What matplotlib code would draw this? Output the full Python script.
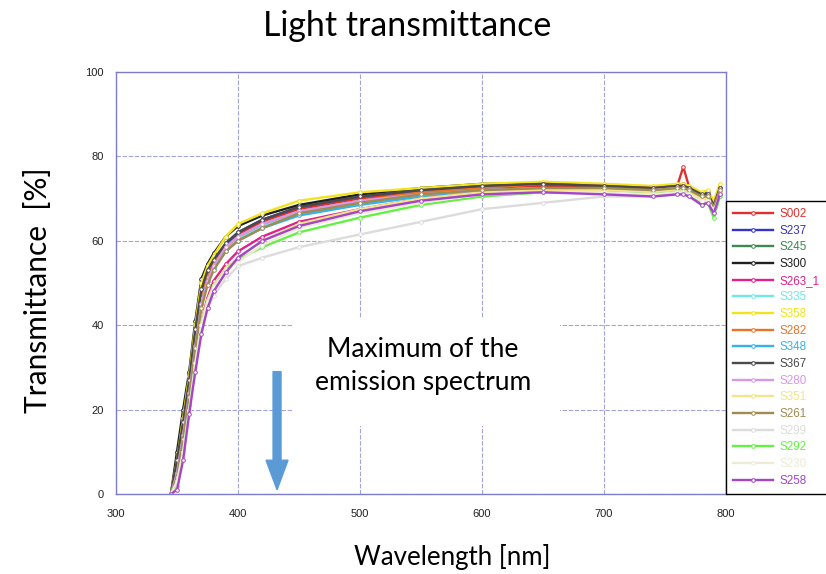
import matplotlib.pyplot as plt
from matplotlib.patches import Rectangle

wavelength = [345, 350, 355, 360, 365, 370, 375, 380, 390, 400, 420, 450, 500,
              550, 600, 650, 700, 740, 760, 765, 770, 780, 785, 790, 795]

samples = ['S002', 'S237', 'S245', 'S300', 'S263_1', 'S335', 'S358', 'S282',
           'S348', 'S367', 'S280', 'S351', 'S261', 'S299', 'S292', 'S230', 'S258']

colors = ['#e0302e', '#3434c8', '#3c8a50', '#202020', '#e0208c', '#70e8e8',
          '#f2e41c', '#e8742a', '#34b4e4', '#4a4a4a', '#d898e8', '#f2e48a',
          '#a08c50', '#dcdcdc', '#64f044', '#ecebd8', '#a444c8']

# transmittance [%]
s002 = [0, 7, 16, 26, 37.5, 47, 52, 54.5, 58.5, 61.5, 64.5, 67.5, 70, 71.5, 72.5, 73, 72.5, 72.5, 73, 77.5, 72.5, 71, 70.5, 68.5, 72]
s237 = [0, 7, 16, 26, 38, 47.5, 52, 55, 59, 62, 65, 68, 70.5, 72, 73, 73.5, 73, 72.5, 73, 73.5, 72.5, 71, 71.5, 69, 72.5]
s245 = [0, 5, 14, 24, 36, 45.5, 51, 54, 58, 60.5, 63.5, 66.5, 69, 71, 72, 72.5, 72.5, 72, 72.5, 72.5, 72, 70, 70.5, 67.5, 72]
s300 = [0, 10, 20, 29, 41, 51, 54.5, 57, 61, 63.5, 66, 68.5, 71, 72.5, 73.5, 73.5, 73, 72.5, 73, 73, 72.5, 71, 71, 69, 72.5]
s263_1 = [0, 3, 11, 21, 32, 41, 46.5, 50.5, 54.5, 57.5, 61, 64.5, 67.5, 70, 71.5, 72, 72, 71.5, 72, 72, 71.5, 69.5, 70, 67, 71.5]
s335 = [0, 6, 15, 25, 36.5, 46, 51, 54, 58, 60.5, 63.5, 66.5, 69, 71, 72, 72.5, 72, 72, 72.5, 72.5, 72, 70.5, 70.5, 68, 72]
s358 = [0, 8, 18, 28, 40, 50, 54, 56.5, 61, 64, 66.5, 69.5, 71.5, 72.5, 73.5, 74, 73.5, 73, 73.5, 73.5, 73, 71.5, 72, 69.5, 73.5]
s282 = [0, 6, 15, 25, 37, 46.5, 51.5, 54.5, 58.5, 61, 64, 67, 69.5, 71.5, 72.5, 73.5, 73, 72.5, 73, 73, 72.5, 70.5, 71, 68.5, 72.5]
s348 = [0, 5, 14, 24, 35.5, 45, 50.5, 53.5, 57.5, 60, 63, 66, 68.5, 70.5, 72, 72.5, 72, 72, 72.5, 72.5, 72, 70.5, 70.5, 68, 72]
s367 = [0, 8, 17, 27, 39, 48.5, 53, 55.5, 59.5, 62, 65, 68, 70.5, 72, 73, 73.5, 73, 72.5, 73, 73, 72.5, 71, 71, 68.5, 72.5]
s280 = [0, 5, 14, 24, 35, 45, 50.5, 54, 58.5, 61, 64, 67, 69.5, 71, 72, 72.5, 72, 72, 72.5, 72.5, 72, 70, 70.5, 67.5, 72]
s351 = [0, 3, 11, 21, 32, 41, 46, 49.5, 53.5, 56, 60, 64, 67.5, 70, 71.5, 72, 72, 71.5, 72, 72, 71.5, 70, 70, 67.5, 71.5]
s261 = [0, 4, 13, 23, 34.5, 44, 49.5, 53, 57.5, 60, 63, 66.5, 69, 71, 72, 72.5, 72.5, 72, 72.5, 72.5, 72, 70.5, 70.5, 68, 72]
s299 = [0, 2, 9, 20, 30, 39, 44, 47, 51, 54, 56, 58.5, 61.5, 64.5, 67.5, 69, 70.5, 70.5, 71, 71, 70.5, 69, 69.5, 67, 70.5]
s292 = [0, 2, 10, 20, 31, 40, 45.5, 49, 53, 55.5, 58.5, 62, 65.5, 68.5, 70.5, 71.5, 71.5, 71, 71.5, 71.5, 71, 68.5, 69, 65.5, 70.5]
s230 = [0, 3, 10, 20, 31, 40, 45.5, 49, 53, 55, 59, 63, 66.5, 69, 71, 71.5, 71.5, 71, 71.5, 71.5, 71, 69.5, 69.5, 67, 71]
s258 = [0, 1, 8, 19, 29, 38, 44, 48, 52.5, 56, 60, 63.5, 67, 69.5, 71, 71.5, 71, 70.5, 71, 71, 70.5, 68.5, 69, 66.5, 71]

series = [s002, s237, s245, s300, s263_1, s335, s358, s282, s348, s367,
          s280, s351, s261, s299, s292, s230, s258]

# emission maximum marked by the arrow
emission_peak = 432

fig = plt.figure(figsize=(8.26, 5.74), dpi=100)
ax = fig.add_axes([116 / 826, 80 / 574, 610 / 826, 422 / 574])

for name, c, vals in zip(samples, colors, series):
    ax.plot(wavelength, vals, color=c, lw=1.7, marker='o', ms=2.6,
            mfc='white', mec=c, mew=0.7, label=name)

ax.set_xlim(300, 800)
ax.set_ylim(0, 100)
ax.set_xticks([300, 400, 500, 600, 700, 800])
ax.set_yticks([0, 20, 40, 60, 80, 100])
ax.tick_params(length=0, labelsize=8, labelcolor='#222222')
ax.tick_params(axis='x', pad=11)
ax.tick_params(axis='y', pad=9)
for lab in ax.get_xticklabels() + ax.get_yticklabels():
    lab.set_family('Liberation Sans')
ax.grid(True, color='#a4a4dc', lw=0.8, ls=(0, (4, 1.5)))
ax.set_axisbelow(True)
for sp in ax.spines.values():
    sp.set_color('#7c7cc8')
    sp.set_linewidth(1.0)

# white box behind the note
ax.add_patch(Rectangle((444, 16), 220, 25.7, facecolor='white',
                       edgecolor='none', zorder=2))
fig.text(423 / 826, 1 - 366 / 574, 'Maximum of the\nemission spectrum',
         ha='center', va='center', fontsize=19, family='Lato',
         linespacing=1.4, zorder=5)

ax.arrow(emission_peak, 29, 0, -28, width=6.5, head_width=18,
         head_length=7, length_includes_head=True, color='#5b9bd5',
         zorder=4, clip_on=False)

fig.text(407 / 826, 1 - 26 / 574, 'Light transmittance', ha='center',
         va='center', fontsize=24.4, family='Lato')
fig.text(38 / 826, 1 - 290 / 574, 'Transmittance  [%]', ha='center',
         va='center', rotation=90, fontsize=21.5, family='Lato')
fig.text(452 / 826, 1 - 557 / 574, 'Wavelength [nm]', ha='center',
         va='center', fontsize=18.6, family='Lato')

leg = fig.legend(loc='upper left',
                 bbox_to_anchor=(726 / 826, 0.0, 0.14, 1 - 201 / 574),
                 mode='expand',
                 prop={'family': 'Liberation Sans', 'size': 8.4},
                 handlelength=3.4, handletextpad=0.6, labelspacing=0.40,
                 borderaxespad=0, borderpad=0.6, fancybox=False,
                 edgecolor='black', framealpha=1, numpoints=1)
leg.get_frame().set_linewidth(1.0)
for txt, c in zip(leg.get_texts(), colors):
    txt.set_color(c)

fig.savefig('out.png', dpi=100)
